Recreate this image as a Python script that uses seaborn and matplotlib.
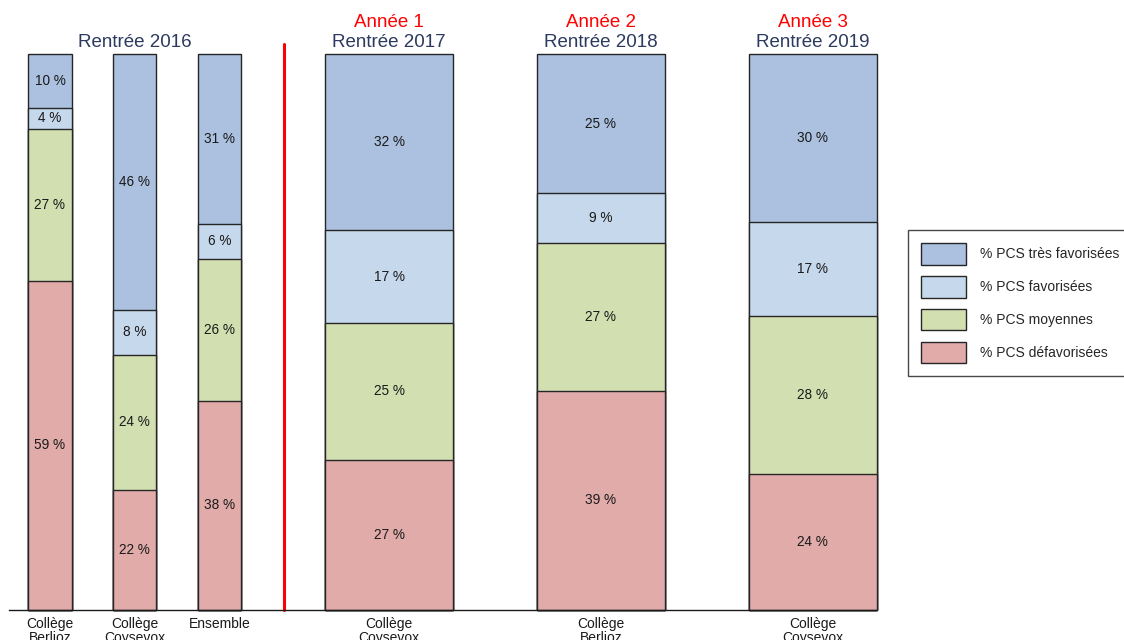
import numpy as np
import pandas as pd
import matplotlib
matplotlib.use("Agg")
import matplotlib.pyplot as plt
from matplotlib.patches import Patch
import seaborn as sns

# ---------------- data ----------------
bar_labels = ["Collège\nBerlioz", "Collège\nCoysevox", "Ensemble",
              "Collège\nCoysevox", "Collège\nBerlioz", "Collège\nCoysevox"]
group_of_bar = [0, 0, 0, 1, 1, 1]
pcs_defavorisees = [59.2, 21.6, 37.6, 27.0, 39.4, 24.4]
pcs_moyennes = [27.3, 24.3, 25.6, 24.6, 26.6, 28.4]
pcs_favorisees = [3.8, 8.1, 6.2, 16.7, 9.0, 16.9]
pcs_tres_favorisees = [9.7, 46.0, 30.6, 31.7, 25.0, 30.3]
series_names = ["% PCS défavorisées", "% PCS moyennes",
                "% PCS favorisées", "% PCS très favorisées"]
titles_year = ["Rentrée 2016", "Rentrée 2017", "Rentrée 2018", "Rentrée 2019"]
titles_annee = ["", "Année 1", "Année 2", "Année 3"]

# ---------------- style ----------------
colors = ["#E1ABAA", "#D2E0B1", "#C6D8EB", "#ABC1DF"]
edge = "#262626"
title_color = "#2B3A5E"

sns.set_theme(style="white")
plt.rcParams["font.family"] = ["Liberation Sans", "DejaVu Sans"]

W, H = 1124, 640
fig = plt.figure(figsize=(W / 100, H / 100), dpi=100)
ax_left, ax_right, ax_top, ax_bottom = 9, 876, 54, 610
ax = fig.add_axes([ax_left / W, (H - ax_bottom) / H,
                   (ax_right - ax_left) / W, (ax_bottom - ax_top) / H])

# layout (pixel-like data units)
g_start = [41.0, 380.0]
g_step = [84.75, 211.75]
g_width = [43.0, 128.0]
pos = []
counter = [0, 0]
for g in group_of_bar:
    pos.append(g_start[g] + counter[g] * g_step[g])
    counter[g] += 1
pos = np.array(pos)

layers = np.array([pcs_defavorisees, pcs_moyennes, pcs_favorisees, pcs_tres_favorisees])
cum = np.cumsum(layers, axis=0)
tot = cum[-1]
cum_n = cum / tot * 100
layers_n = layers / tot * 100

df = pd.DataFrame({"pos": pos, "group": group_of_bar})
for i in range(4):
    df[f"c{i}"] = cum_n[i]

for g in (0, 1):
    sub = df[df["group"] == g]
    wfrac = g_width[g] / np.diff(np.sort(sub["pos"].values)).min()
    for i in range(3, -1, -1):
        sns.barplot(data=sub, x="pos", y=f"c{i}", native_scale=True,
                    width=wfrac, color=colors[i], saturation=1,
                    edgecolor=edge, linewidth=1.0, ax=ax, errorbar=None)
for p in ax.patches:
    p.set_clip_on(False)

# segment labels
for j in range(len(pos)):
    base = 0
    for i in range(4):
        h = layers_n[i, j]
        ax.text(pos[j], base + h / 2, f"{layers[i, j]:.0f} %", ha="center",
                va="center", fontsize=9.8, color="#1a1a1a")
        base += h

ax.set_xlim(0, ax_right - ax_left)
ax.set_ylim(0, 100)
ax.set_xticks(pos)
ax.set_xticklabels(bar_labels, fontsize=10, linespacing=1.05, color="#1a1a1a")
ax.tick_params(axis="x", length=0, pad=5)
ax.set_yticks([])
ax.set_xlabel("")
ax.set_ylabel("")
for s in ["top", "right", "left"]:
    ax.spines[s].set_visible(False)
ax.spines["bottom"].set_color("#1a1a1a")
ax.spines["bottom"].set_linewidth(1.0)

# titles
trans = matplotlib.transforms.blended_transform_factory(ax.transData, ax.transAxes)
title_x = [pos[:3].mean()] + list(pos[3:])
y_year = (ax_bottom - 47) / (ax_bottom - ax_top)
y_annee = (ax_bottom - 27) / (ax_bottom - ax_top)
for k in range(4):
    ax.text(title_x[k], y_year, titles_year[k], transform=trans, ha="center",
            va="baseline", fontsize=13.5, color=title_color, clip_on=False)
    if titles_annee[k]:
        ax.text(title_x[k], y_annee, titles_annee[k], transform=trans, ha="center",
                va="baseline", fontsize=13.5, color="#FF0000", clip_on=False)

# red separator
ax.axvline(284 - ax_left, ymin=0, ymax=(ax_bottom - 44) / (ax_bottom - ax_top),
           color="#FF0000", linewidth=2.2, clip_on=False)

# legend
handles = [Patch(facecolor=colors[i], edgecolor=edge, linewidth=1.0, label=series_names[i])
           for i in (3, 2, 1, 0)]
leg = fig.legend(handles=handles, loc="upper left",
                 bbox_to_anchor=(908 / W, 1 - 230 / H), frameon=True, fancybox=False,
                 fontsize=10, handlelength=3.2, handleheight=2.0, labelspacing=0.82,
                 borderpad=0.95, handletextpad=1.0, borderaxespad=0)
leg.get_frame().set_edgecolor("#1a1a1a")
leg.get_frame().set_linewidth(1.0)

fig.savefig("out.png", dpi=100)
